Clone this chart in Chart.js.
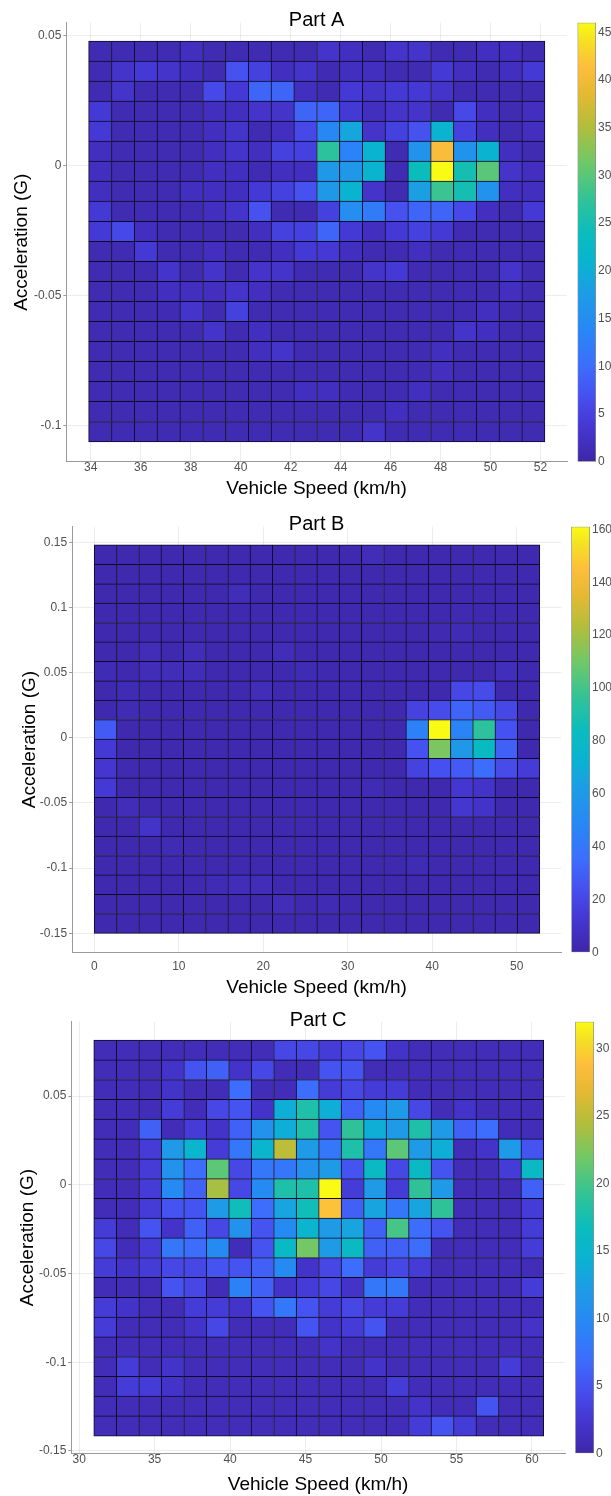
<!DOCTYPE html>
<html>
<head>
<meta charset="utf-8">
<script src="https://cdn.jsdelivr.net/npm/chart.js@4.4.0/dist/chart.umd.min.js"></script>
<style>
html, body { margin: 0; padding: 0; background: #fff; }
body { width: 611px; height: 1496px; position: relative; overflow: hidden; }
canvas { position: absolute; }
</style>
</head>
<body>
<canvas id="heatA" width="570" height="500" style="left:0;top:0"></canvas>
<canvas id="barA" width="41" height="500" style="left:570px;top:0"></canvas>
<canvas id="heatB" width="565" height="500" style="left:0;top:500px"></canvas>
<canvas id="barB" width="46" height="500" style="left:565px;top:500px"></canvas>
<canvas id="heatC" width="568" height="496" style="left:0;top:1000px"></canvas>
<canvas id="barC" width="43" height="496" style="left:568px;top:1000px"></canvas>
<script>
// ---- data ----
// counts: rows go from highest acceleration bin (top) to lowest, columns from lowest speed bin

// Part A
const speedBinsA = [33.92, 52.17]
const accBinsA = [-0.1061, 0.0477]
const speedTicksA = [34, 36, 38, 40, 42, 44, 46, 48, 50, 52]
const accTicksA = [-0.1, -0.05, 0, 0.05]
const colorTicksA = [0, 5, 10, 15, 20, 25, 30, 35, 40, 45]
const countsA = [
  [1,1,1,1,2,1,1,1,1,1,3,2,1,3,3,1,1,2,2,1],
  [1,3,4,3,2,1,7,5,2,3,1,2,2,1,1,4,2,1,2,4],
  [1,3,1,1,1,6,4,9,9,2,1,4,3,4,4,3,1,1,1,1],
  [4,1,1,1,1,2,2,3,3,9,9,4,2,3,3,1,6,2,1,2],
  [4,1,1,1,1,2,3,1,2,6,14,19,3,5,7,21,5,2,1,2],
  [2,1,1,1,1,2,3,2,5,5,27,13,21,1,16,41,16,21,2,1],
  [2,1,1,1,1,2,2,1,2,2,17,17,21,1,24,46,25,30,3,2],
  [2,1,1,1,2,2,2,4,5,7,17,21,3,1,18,28,25,16,2,2],
  [4,1,1,1,1,2,3,7,1,1,5,15,12,7,9,9,6,2,1,4],
  [4,6,2,1,1,1,1,2,5,5,9,4,2,4,5,4,1,1,1,1],
  [1,1,4,1,1,2,1,1,2,4,4,2,1,1,2,1,1,1,1,1],
  [1,1,1,3,1,3,1,3,3,1,1,1,3,4,1,1,1,1,3,1],
  [1,1,1,2,2,2,3,2,1,1,1,1,1,1,1,1,1,1,2,1],
  [1,1,1,1,3,1,5,1,1,1,1,1,1,1,1,1,1,2,1,1],
  [1,1,1,1,1,3,1,2,1,1,1,1,1,1,1,1,3,2,1,1],
  [1,1,1,1,1,1,1,2,3,1,1,1,1,1,1,2,1,1,1,1],
  [1,1,1,1,1,1,1,1,1,1,1,1,1,1,1,2,1,1,1,1],
  [1,1,1,1,1,1,1,1,1,2,2,1,1,1,2,1,1,1,1,1],
  [1,1,1,1,1,1,1,1,1,1,1,1,1,2,1,1,1,1,1,1],
  [1,1,1,1,1,1,1,1,1,1,1,1,3,1,1,1,1,1,1,1]
]

// Part B
const speedBinsB = [0, 52.71]
const accBinsB = [-0.15, 0.1479]
const speedTicksB = [0, 10, 20, 30, 40, 50]
const accTicksB = [-0.15, -0.1, -0.05, 0, 0.05, 0.1, 0.15]
const colorTicksB = [0, 20, 40, 60, 80, 100, 120, 140, 160]
const countsB = [
  [2,2,2,2,2,2,2,2,2,2,2,2,5,2,2,2,2,2,2,2],
  [2,2,2,2,2,2,2,2,2,2,2,2,2,2,2,2,2,2,2,2],
  [2,2,2,2,2,2,5,2,2,2,2,2,2,2,2,2,2,2,2,2],
  [2,2,2,2,2,2,2,2,2,2,2,2,2,2,2,2,3,2,2,2],
  [2,2,2,2,2,2,2,2,2,2,2,2,2,2,2,3,4,2,2,2],
  [2,2,5,2,5,2,2,2,5,2,2,2,2,2,2,2,2,2,2,2],
  [4,2,5,5,5,2,2,2,2,4,2,2,2,2,2,2,2,2,6,2],
  [2,4,2,2,2,2,2,5,2,2,2,2,2,2,2,2,20,22,2,2],
  [2,4,2,2,2,2,2,2,2,2,2,2,2,2,18,22,32,28,20,2],
  [28,2,2,2,2,2,2,2,2,2,2,2,2,2,45,162,47,95,25,2],
  [14,2,2,2,2,2,2,2,2,2,2,2,2,2,25,112,60,82,30,2],
  [12,3,2,2,2,2,2,2,2,2,2,2,2,2,18,24,28,35,22,15],
  [14,2,2,2,2,2,2,2,2,2,2,2,4,2,2,2,12,10,2,2],
  [2,5,2,2,2,2,2,2,2,2,2,2,2,2,2,2,12,10,2,2],
  [2,2,10,2,2,2,2,2,2,2,2,2,2,2,2,2,2,2,2,2],
  [2,2,2,4,2,2,2,2,2,2,2,2,2,2,2,2,2,2,2,2],
  [2,2,2,2,2,2,2,2,2,2,2,2,2,2,4,2,2,2,2,2],
  [2,2,2,2,2,4,5,5,2,2,2,2,2,2,2,2,2,2,2,2],
  [2,2,2,2,2,2,2,2,5,2,4,2,2,2,2,2,2,2,2,2],
  [2,2,2,2,2,2,2,2,2,2,2,2,2,2,2,2,2,2,2,2]
]

// Part C
const speedBinsC = [30.98, 60.77]
const accBinsC = [-0.1415, 0.0815]
const speedTicksC = [30, 35, 40, 45, 50, 55, 60]
const accTicksC = [-0.15, -0.1, -0.05, 0, 0.05]
const colorTicksC = [0, 5, 10, 15, 20, 25, 30]
const countsC = [
  [1,1,1,1,1,1,1,1,4,4,3,4,5,2,1,1,1,1,1,1],
  [1,1,1,2,5,6,2,4,1,1,5,5,1,1,1,1,1,1,1,1],
  [1,1,1,2,1,1,7,1,1,7,3,4,3,3,1,1,1,1,1,1],
  [1,1,1,3,1,4,5,2,14,18,14,6,10,12,4,1,2,1,1,1],
  [1,1,6,1,3,2,6,11,14,18,5,19,14,12,18,12,6,7,1,1],
  [1,1,3,12,15,3,8,15,25,12,8,18,8,21,12,14,1,2,12,5],
  [1,1,3,11,7,21,4,8,8,11,12,5,16,4,16,5,1,1,3,16],
  [1,1,3,10,6,24,4,10,18,18,32,3,12,3,19,12,1,1,1,6],
  [1,1,3,5,5,12,17,7,13,17,29,6,13,8,13,19,1,1,1,3],
  [3,1,5,2,6,4,11,5,10,15,12,13,6,20,7,5,1,1,1,3],
  [4,1,3,8,7,10,1,5,16,22,12,16,6,6,7,1,1,1,1,3],
  [3,2,3,4,4,5,5,6,10,2,4,7,3,4,3,1,1,1,1,1],
  [1,1,1,5,4,1,9,6,2,3,4,2,8,8,1,1,1,1,1,3],
  [3,2,1,1,3,3,2,5,8,5,3,4,3,3,1,1,1,1,1,1],
  [3,1,1,1,2,4,1,1,1,5,2,3,5,1,1,1,1,1,1,2],
  [1,1,1,1,1,1,1,1,1,1,2,1,1,1,1,1,1,1,1,1],
  [1,3,1,2,1,1,1,1,1,1,1,1,2,1,1,1,1,1,3,1],
  [1,3,3,2,1,1,1,1,1,1,1,1,1,3,1,1,1,1,1,1],
  [1,1,1,1,1,1,1,1,1,1,1,1,1,1,2,1,1,5,1,1],
  [1,1,1,1,1,1,1,1,1,1,1,1,1,1,3,5,3,1,1,1]
]

// ---- colormap (parula-like) ----
const parulaStops = [
  [0.00, 62, 38, 168],
  [0.08, 69, 55, 210],
  [0.15, 70, 80, 240],
  [0.22, 60, 110, 252],
  [0.30, 40, 135, 245],
  [0.38, 30, 155, 230],
  [0.45, 10, 178, 210],
  [0.52, 10, 188, 190],
  [0.60, 50, 195, 150],
  [0.68, 110, 200, 105],
  [0.76, 175, 190, 60],
  [0.84, 230, 185, 50],
  [0.90, 253, 190, 60],
  [0.96, 245, 225, 35],
  [1.00, 249, 251, 20]
]

function parula(t) {
  t = Math.max(0, Math.min(1, t))
  for (let i = 1; i < parulaStops.length; i++) {
    const a = parulaStops[i - 1], b = parulaStops[i]
    if (t <= b[0]) {
      const f = (t - a[0]) / (b[0] - a[0])
      const c = [1, 2, 3].map(k => Math.round(a[k] + (b[k] - a[k]) * f))
      return `rgb(${c[0]},${c[1]},${c[2]})`
    }
  }
  return 'rgb(249,251,20)'
}

const FONT = '"Liberation Sans", Arial, Helvetica, sans-serif'
const tickCol = '#505050'
const axisCol = '#9a9a9a'
const gridCol = 'rgba(0,0,0,0.07)'
const edgeCol = '#0e0a24'

function cells(counts, speedBins, accBins) {
  const rows = counts.length, cols = counts[0].length
  const w = (speedBins[1] - speedBins[0]) / cols
  const h = (accBins[1] - accBins[0]) / rows
  const pts = []
  counts.forEach((row, r) => {
    row.forEach((n, c) => {
      const top = accBins[1] - r * h
      pts.push({x: speedBins[0] + (c + 0.5) * w, y: [top - h, top], n: n, r: r, c: c, last: [rows - 1, cols - 1]})
    })
  })
  return pts
}

function heatmap(id, p) {
  new Chart(document.getElementById(id), {
    type: 'bar',
    data: {
      datasets: [{
        data: cells(p.counts, p.speedBins, p.accBins),
        backgroundColor: ctx => parula(ctx.raw.n / p.cmax),
        borderColor: edgeCol,
        borderWidth: ctx => ({
          left: 1, top: 1,
          right: ctx.raw.c === ctx.raw.last[1] ? 1 : 0,
          bottom: ctx.raw.r === ctx.raw.last[0] ? 1 : 0
        }),
        borderSkipped: false,
        inflateAmount: 0.5,
        barPercentage: 1,
        categoryPercentage: 1
      }]
    },
    options: {
      responsive: false,
      animation: false,
      devicePixelRatio: 1,
      layout: {padding: {left: 0, top: 0, right: p.padRight, bottom: 0}},
      plugins: {
        legend: {display: false},
        tooltip: {enabled: false},
        title: {
          display: true, text: p.title, fullSize: false, color: '#000',
          font: {family: FONT, size: 20, weight: 'normal'},
          padding: p.titlePad
        }
      },
      scales: {
        x: {
          type: 'linear', min: p.xRange[0], max: p.xRange[1], offset: false,
          afterBuildTicks: s => { s.ticks = p.speedTicks.map(v => ({value: v})) },
          afterFit: s => { s.height = p.xHeight },
          grid: {color: gridCol, drawTicks: false, offset: false},
          border: {color: axisCol},
          ticks: {font: {family: FONT, size: 12, lineHeight: 1}, color: tickCol, padding: p.xTickPad,
                  maxRotation: 0, autoSkip: false, callback: v => String(v)},
          title: {display: true, text: 'Vehicle Speed (km/h)', color: '#000',
                  font: {family: FONT, size: 19}, padding: {top: 0, bottom: p.xTitlePad}}
        },
        y: {
          type: 'linear', min: p.yRange[0], max: p.yRange[1],
          afterBuildTicks: s => { s.ticks = p.accTicks.map(v => ({value: v})) },
          afterFit: s => { s.width = p.yWidth },
          grid: {color: gridCol, tickLength: 3, tickColor: axisCol},
          border: {color: axisCol},
          ticks: {font: {family: FONT, size: 12}, color: tickCol, padding: 2, autoSkip: false,
                  callback: v => String(v)},
          title: {display: true, text: 'Acceleration (G)', color: '#000',
                  font: {family: FONT, size: 19}, padding: {top: p.yTitlePad, bottom: 0}}
        }
      }
    }
  })
}

function colorbar(id, p) {
  new Chart(document.getElementById(id), {
    type: 'bar',
    data: {
      labels: [''],
      datasets: [{
        data: [[0, p.cmax]],
        backgroundColor: ctx => {
          const area = ctx.chart.chartArea
          if (!area) return null
          const g = ctx.chart.ctx.createLinearGradient(0, area.bottom, 0, area.top)
          parulaStops.forEach(s => g.addColorStop(s[0], `rgb(${s[1]},${s[2]},${s[3]})`))
          return g
        },
        borderColor: '#8c8c8c',
        borderWidth: 1,
        borderSkipped: false,
        barPercentage: 1,
        categoryPercentage: 1
      }]
    },
    options: {
      responsive: false,
      animation: false,
      devicePixelRatio: 1,
      layout: {padding: p.pad},
      plugins: {legend: {display: false}, tooltip: {enabled: false}},
      scales: {
        x: {display: false},
        y: {
          position: 'right', min: 0, max: p.cmax,
          afterBuildTicks: s => { s.ticks = p.ticks.map(v => ({value: v})) },
          afterFit: s => { s.width = p.width },
          grid: {display: false, drawTicks: false},
          border: {display: false},
          ticks: {font: {family: FONT, size: 12}, color: tickCol, padding: 2, autoSkip: false,
                  callback: v => String(v)}
        }
      }
    }
  })
}

heatmap('heatA', {
  title: 'Part A', counts: countsA, speedBins: speedBinsA, accBins: accBinsA, cmax: 46,
  speedTicks: speedTicksA, accTicks: accTicksA,
  xRange: [33.02, 53.06], yRange: [-0.1138, 0.0548],
  padRight: 3, titlePad: {top: 8.8, bottom: -10.1},
  xHeight: 38.3, xTickPad: 0, xTitlePad: 0, yWidth: 66.3, yTitlePad: 10
})
colorbar('barA', {cmax: 46, ticks: colorTicksA, width: 15, pad: {left: 7.5, top: 22.7, right: 0, bottom: 38.3}})

heatmap('heatB', {
  title: 'Part B', counts: countsB, speedBins: speedBinsB, accBins: accBinsB, cmax: 161,
  speedTicks: speedTicksB, accTicks: accTicksB,
  xRange: [-2.63, 55.26], yRange: [-0.1646, 0.162],
  padRight: 3.8, titlePad: {top: 12.7, bottom: -10},
  xHeight: 47.7, xTickPad: 8.4, xTitlePad: 0.6, yWidth: 72.1, yTitlePad: 18.6
})
colorbar('barB', {cmax: 161, ticks: colorTicksB, width: 21, pad: {left: 6.3, top: 26.7, right: 0, bottom: 47.7}})

heatmap('heatC', {
  title: 'Part C', counts: countsC, speedBins: speedBinsC, accBins: accBinsC, cmax: 32,
  speedTicks: speedTicksC, accTicks: accTicksC,
  xRange: [29.48, 62.19], yRange: [-0.1513, 0.0919],
  padRight: 3, titlePad: {top: 8, bottom: -10.3},
  xHeight: 42.7, xTickPad: 0, xTitlePad: 0, yWidth: 71.3, yTitlePad: 16.6
})
colorbar('barC', {cmax: 32, ticks: colorTicksC, width: 17, pad: {left: 7.2, top: 21.7, right: 0, bottom: 42.7}})
</script>
</body>
</html>
